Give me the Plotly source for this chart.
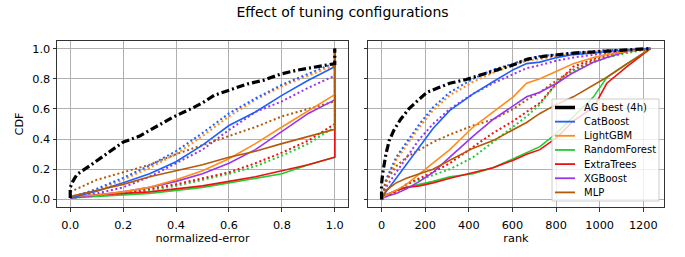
import plotly.graph_objects as go

# ---------------- data ----------------
names = ["AG best (4h)", "CatBoost", "LightGBM", "RandomForest", "ExtraTrees", "XGBoost", "MLP"]
colors = ["#000000", "#1f5fff", "#ff8c1a", "#22cc33", "#ee1111", "#9933ee", "#b35a0a"]

# Left panel: normalized-error vs CDF
ne_ag_x = [0.0, 0.0, 0.01, 0.025, 0.075, 0.1375, 0.2, 0.2625, 0.325, 0.3875, 0.45, 0.5, 0.544,
           0.606, 0.669, 0.731, 0.794, 0.856, 0.919, 1.0, 1.0]
ne_ag_y = [0.01, 0.08, 0.12, 0.165, 0.225, 0.305, 0.38, 0.42, 0.48, 0.545, 0.595, 0.64, 0.69,
           0.727, 0.765, 0.79, 0.83, 0.856, 0.874, 0.9, 1.0]

ne_x = [0.0, 0.1, 0.2, 0.3, 0.4, 0.5, 0.6, 0.7, 0.8, 0.9, 1.0, 1.0]
ne_default = {
    "CatBoost":     [0.01, 0.055, 0.11, 0.17, 0.25, 0.36, 0.49, 0.58, 0.69, 0.79, 0.88, 1.0],
    "LightGBM":     [0.02, 0.03, 0.05, 0.08, 0.13, 0.19, 0.27, 0.37, 0.48, 0.59, 0.695, 1.0],
    "RandomForest": [0.01, 0.02, 0.03, 0.04, 0.06, 0.08, 0.11, 0.14, 0.17, 0.23, 0.28, 1.0],
    "ExtraTrees":   [0.01, 0.03, 0.04, 0.05, 0.07, 0.09, 0.12, 0.15, 0.19, 0.23, 0.28, 1.0],
    "XGBoost":      [0.01, 0.03, 0.05, 0.08, 0.12, 0.17, 0.24, 0.33, 0.45, 0.57, 0.66, 1.0],
    "MLP":          [0.02, 0.06, 0.10, 0.15, 0.19, 0.23, 0.28, 0.32, 0.37, 0.42, 0.465, 1.0],
}
ne_tuned = {
    "CatBoost":     [0.01, 0.07, 0.143, 0.225, 0.32, 0.44, 0.57, 0.67, 0.76, 0.83, 0.905, 1.0],
    "LightGBM":     [0.02, 0.06, 0.13, 0.21, 0.30, 0.42, 0.55, 0.66, 0.75, 0.82, 0.89, 1.0],
    "RandomForest": [0.01, 0.03, 0.04, 0.06, 0.09, 0.13, 0.17, 0.22, 0.29, 0.37, 0.48, 1.0],
    "ExtraTrees":   [0.01, 0.03, 0.04, 0.07, 0.10, 0.14, 0.18, 0.24, 0.31, 0.39, 0.50, 1.0],
    "XGBoost":      [0.01, 0.04, 0.08, 0.15, 0.24, 0.33, 0.46, 0.58, 0.65, 0.74, 0.82, 1.0],
    "MLP":          [0.05, 0.13, 0.18, 0.23, 0.30, 0.36, 0.42, 0.48, 0.55, 0.60, 0.65, 1.0],
}

# Right panel: rank vs CDF
rk_ag_x = [0, 0, 5, 20, 35, 57, 87, 125, 162, 208, 260, 313, 388, 463, 538, 600, 670, 750, 880,
           1030, 1180, 1233]
rk_ag_y = [0.0, 0.10, 0.17, 0.30, 0.39, 0.46, 0.53, 0.60, 0.65, 0.71, 0.74, 0.77, 0.795, 0.83, 0.86,
           0.89, 0.93, 0.95, 0.97, 0.985, 0.995, 1.0]

rk_x = [0, 20, 67, 114, 174, 236, 313, 420, 511, 604, 665, 726, 803, 879, 972, 1033, 1125, 1233]
rk_default = {
    "CatBoost":     [0.0, 0.05, 0.14, 0.23, 0.35, 0.47, 0.59, 0.70, 0.78, 0.86, 0.90, 0.91, 0.94, 0.96, 0.97, 0.98, 0.99, 1.0],
    "LightGBM":     [0.0, 0.03, 0.06, 0.10, 0.17, 0.24, 0.33, 0.48, 0.58, 0.68, 0.77, 0.80, 0.85, 0.90, 0.94, 0.96, 0.98, 1.0],
    "RandomForest": [0.0, 0.03, 0.06, 0.08, 0.10, 0.12, 0.15, 0.17, 0.21, 0.27, 0.31, 0.35, 0.44, 0.55, 0.68, 0.81, 0.90, 1.0],
    "ExtraTrees":   [0.0, 0.03, 0.06, 0.08, 0.09, 0.11, 0.14, 0.18, 0.21, 0.26, 0.30, 0.33, 0.41, 0.52, 0.61, 0.77, 0.88, 1.0],
    "XGBoost":      [0.0, 0.02, 0.04, 0.07, 0.12, 0.18, 0.28, 0.42, 0.53, 0.62, 0.68, 0.71, 0.77, 0.84, 0.91, 0.94, 0.98, 1.0],
    "MLP":          [0.0, 0.06, 0.11, 0.14, 0.17, 0.20, 0.26, 0.34, 0.39, 0.46, 0.51, 0.57, 0.63, 0.68, 0.76, 0.81, 0.90, 1.0],
}
rk_tuned = {
    "CatBoost":     [0.0, 0.13, 0.28, 0.38, 0.50, 0.61, 0.71, 0.80, 0.86, 0.90, 0.93, 0.95, 0.96, 0.97, 0.98, 0.99, 0.99, 1.0],
    "LightGBM":     [0.0, 0.11, 0.26, 0.36, 0.48, 0.59, 0.69, 0.78, 0.84, 0.89, 0.92, 0.93, 0.95, 0.96, 0.98, 0.98, 0.99, 1.0],
    "RandomForest": [0.0, 0.02, 0.05, 0.10, 0.13, 0.16, 0.20, 0.28, 0.38, 0.48, 0.55, 0.63, 0.77, 0.85, 0.91, 0.94, 0.97, 1.0],
    "ExtraTrees":   [0.0, 0.02, 0.05, 0.10, 0.14, 0.18, 0.24, 0.35, 0.44, 0.52, 0.58, 0.64, 0.77, 0.88, 0.93, 0.96, 0.98, 1.0],
    "XGBoost":      [0.0, 0.08, 0.18, 0.28, 0.40, 0.50, 0.60, 0.70, 0.77, 0.83, 0.87, 0.89, 0.92, 0.94, 0.96, 0.97, 0.99, 1.0],
    "MLP":          [0.0, 0.12, 0.22, 0.28, 0.33, 0.38, 0.43, 0.49, 0.53, 0.60, 0.66, 0.71, 0.79, 0.86, 0.92, 0.95, 0.98, 1.0],
}

# ---------------- figure ----------------
fig = go.Figure()
order = ["RandomForest", "ExtraTrees", "XGBoost", "LightGBM", "CatBoost", "MLP"]
cmap = dict(zip(names, colors))
DOT = "2px,2.6px"
DASHDOT = "8px,3px,2px,3px"

for panel, (xa, ya) in enumerate([("x", "y"), ("x2", "y2")]):
    tx = ne_x if panel == 0 else rk_x
    for nm in order:
        ty = (ne_tuned if panel == 0 else rk_tuned)[nm]
        fig.add_trace(go.Scatter(x=tx, y=ty, mode="lines", xaxis=xa, yaxis=ya,
                                 line=dict(color=cmap[nm], width=2, dash=DOT),
                                 showlegend=False, hoverinfo="skip"))
    for nm in order:
        ty = (ne_default if panel == 0 else rk_default)[nm]
        fig.add_trace(go.Scatter(x=tx, y=ty, mode="lines", xaxis=xa, yaxis=ya,
                                 line=dict(color=cmap[nm], width=1.6),
                                 showlegend=False, hoverinfo="skip"))
    fig.add_trace(go.Scatter(x=ne_ag_x if panel == 0 else rk_ag_x,
                             y=ne_ag_y if panel == 0 else rk_ag_y,
                             mode="lines", xaxis=xa, yaxis=ya,
                             line=dict(color="black", width=3.2, dash=DASHDOT),
                             showlegend=False, hoverinfo="skip"))

# ---- compact legend (matplotlib-like) drawn in paper coordinates ----
# plot area: x 57..664 px, y 41..207 px
def px(xp):
    return (xp - 57) / 607

def py(yp):
    return (207 - yp) / 166

shapes = [dict(type="rect", xref="paper", yref="paper", x0=px(552), x1=px(659), y0=py(201), y1=py(99),
               fillcolor="rgba(255,255,255,0.8)", line=dict(color="#cccccc", width=1), layer="above")]
annotations = []
for i, nm in enumerate(names):
    yy = py(107.5 + i * 14.15)
    shapes.append(dict(type="line", xref="paper", yref="paper", x0=px(555), x1=px(575), y0=yy, y1=yy,
                       line=dict(color=cmap[nm], width=3.5 if i == 0 else 1.8), layer="above"))
    annotations.append(dict(text=nm, xref="paper", yref="paper", x=px(582), y=yy, xanchor="left",
                            yanchor="middle", showarrow=False, font=dict(size=10, color="black")))
# y-axis title
annotations.append(dict(text="CDF", xref="paper", yref="paper", x=px(18.5), y=0.5, xanchor="center",
                        yanchor="middle", textangle=-90, showarrow=False,
                        font=dict(size=11.3, color="black")))

axis_common = dict(showgrid=True, gridcolor="#b0b0b0", gridwidth=1,
                   showline=True, linecolor="#333333", linewidth=1, mirror=True,
                   ticks="outside", ticklen=3.5, tickcolor="#333333", zeroline=False,
                   tickfont=dict(size=11.3, color="black"))

fig.update_layout(
    width=685, height=257,
    margin=dict(l=57, r=21, t=41, b=50, autoexpand=False),
    paper_bgcolor="white", plot_bgcolor="white", showlegend=False,
    font=dict(family="DejaVu Sans", size=11.3, color="black"),
    title=dict(text="Effect of tuning configurations", x=0.5, xanchor="center",
               y=1 - 12.5 / 257, yanchor="middle", font=dict(size=14)),
    xaxis=dict(domain=[0, 0.4794], range=[-0.05, 1.05], tickvals=[0, 0.2, 0.4, 0.6, 0.8, 1.0],
               ticktext=["0.0", "0.2", "0.4", "0.6", "0.8", "1.0"], ticklabelstandoff=4,
               title=dict(text="normalized-error", standoff=0, font=dict(size=11.3)), **axis_common),
    yaxis=dict(domain=[0, 1], range=[-0.05, 1.05], tickvals=[0, 0.2, 0.4, 0.6, 0.8, 1.0],
               ticktext=["0.0", "0.2", "0.4", "0.6", "0.8", "1.0"], **axis_common),
    xaxis2=dict(domain=[0.5124, 1], anchor="y2", range=[-62, 1295],
                tickvals=[0, 200, 400, 600, 800, 1000, 1200], ticklabelstandoff=4,
                title=dict(text="rank", standoff=0, font=dict(size=11.3)), **axis_common),
    yaxis2=dict(domain=[0, 1], anchor="x2", range=[-0.05, 1.05], tickvals=[0, 0.2, 0.4, 0.6, 0.8, 1.0],
                showticklabels=False, **axis_common),
    shapes=shapes, annotations=annotations,
)

fig.write_html("out.html", config={"displayModeBar": False},
               post_script="document.body.style.margin='0';")
